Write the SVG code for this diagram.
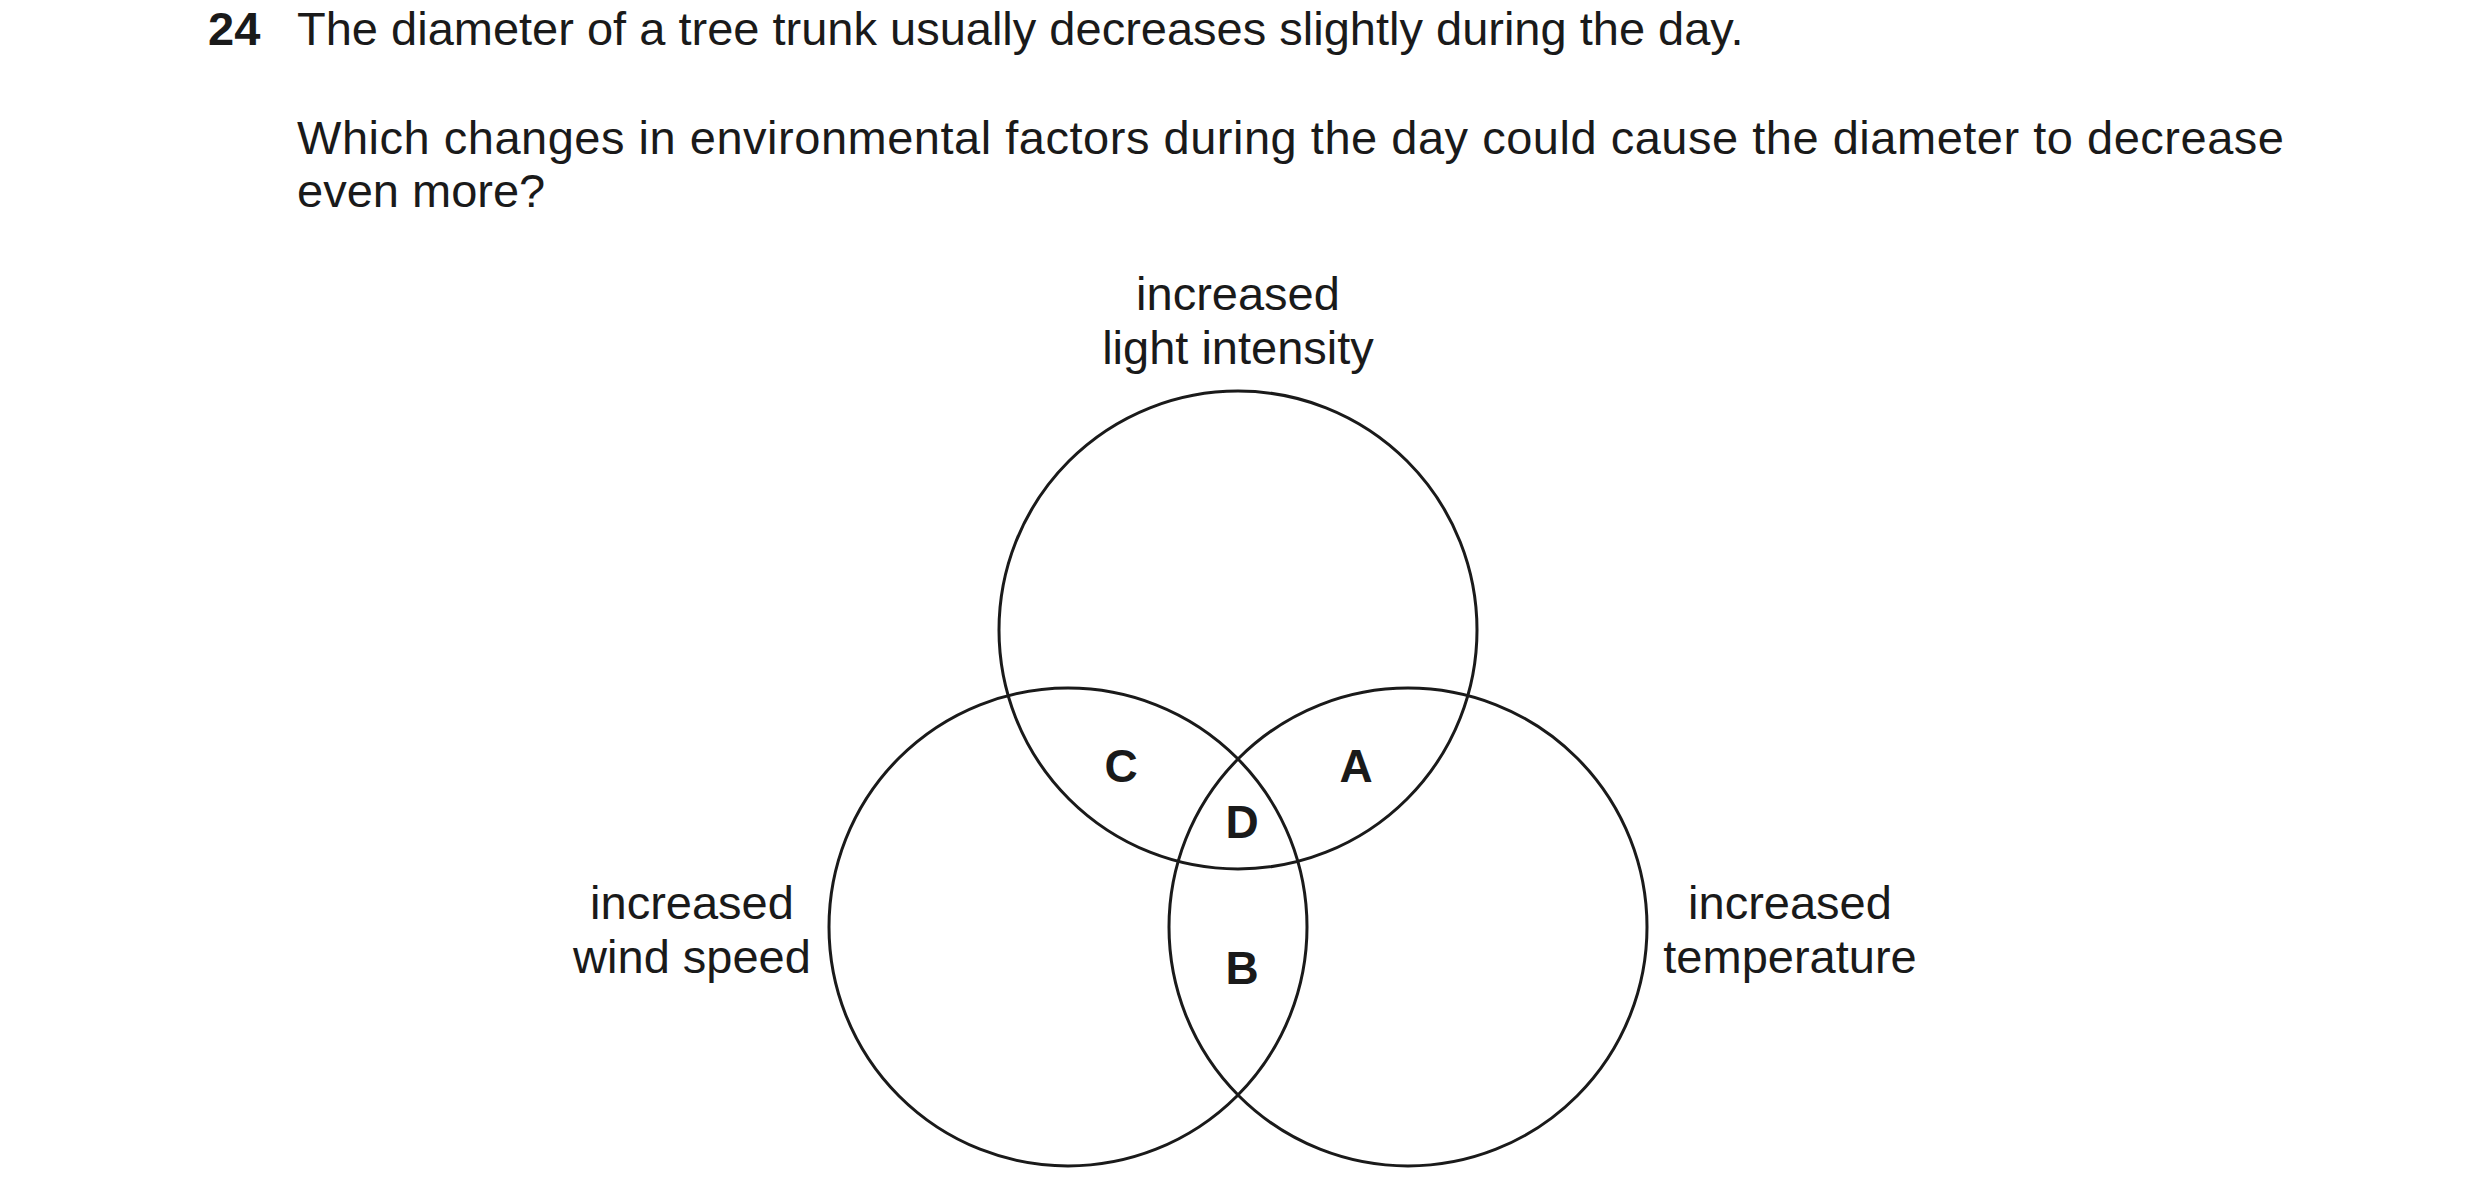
<svg xmlns="http://www.w3.org/2000/svg" width="2480" height="1202" viewBox="0 0 2480 1202">
<style>
text{font-family:"Liberation Sans",Arial,sans-serif;fill:#1a1a1a;font-size:47px}
.b{font-weight:bold}
.c{text-anchor:middle}
.l{font-size:46px;font-weight:bold;text-anchor:middle}
circle{fill:none;stroke:#1a1a1a;stroke-width:3}
</style>
<rect width="2480" height="1202" fill="#fff"/>
<g id="question">
<text x="208" y="45" class="b">24</text>
<text x="297" y="45">The diameter of a tree trunk usually decreases slightly during the day.</text>
<text x="297" y="154" textLength="1987" lengthAdjust="spacing">Which changes in environmental factors during the day could cause the diameter to decrease</text>
<text x="297" y="207">even more?</text>
</g>
<g id="light">
<circle cx="1238" cy="630" r="239"/>
<text x="1238" y="310" class="c">increased</text>
<text x="1238" y="364" class="c">light intensity</text>
</g>
<g id="wind">
<circle cx="1068" cy="927" r="239"/>
<text x="692" y="919" class="c">increased</text>
<text x="692" y="973" class="c">wind speed</text>
</g>
<g id="temperature">
<circle cx="1408" cy="927" r="239"/>
<text x="1790" y="919" class="c">increased</text>
<text x="1790" y="973" class="c">temperature</text>
</g>
<g id="regions">
<text x="1121" y="782" class="l">C</text>
<text x="1356" y="782" class="l">A</text>
<text x="1242" y="838" class="l">D</text>
<text x="1242" y="984" class="l">B</text>
</g>
<g id="connectors"/>
</svg>
